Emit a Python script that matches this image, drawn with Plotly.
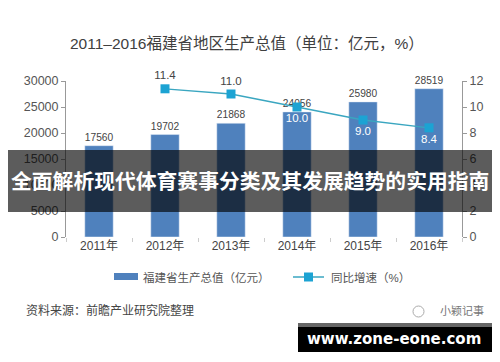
import plotly.graph_objects as go

# ---- data ----
years = ["2011年", "2012年", "2013年", "2014年", "2015年", "2016年"]
gdp = [17560, 19702, 21868, 24056, 25980, 28519]
growth_years = ["2012年", "2013年", "2014年", "2015年", "2016年"]
growth = [11.4, 11.0, 10.0, 9.0, 8.4]
left_ticks = [0, 5000, 10000, 15000, 20000, 25000, 30000]
right_ticks = [0, 2, 4, 6, 8, 10, 12]
bar_name = "福建省生产总值（亿元）"
line_name = "同比增速（%）"
title_text = "2011–2016福建省地区生产总值（单位：亿元，%）"
source_text = "资料来源：前瞻产业研究院整理"
brand_text = "小颖记事"
banner_text = "全面解析现代体育赛事分类及其发展趋势的实用指南"
site_text = "www.zone-eone.com"

W, H = 500, 362
ML, MR, MT, MB = 66, 38, 81, 125
PW, PH = W - ML - MR, H - MT - MB


def px(x):
    return (x - ML) / PW


def py(y):
    return (H - MB - y) / PH


FONT = "Liberation Sans, Noto Sans CJK SC, sans-serif"
BAR_COLOR = "#4f81bd"
LINE_COLOR = "#3aa6c0"
MARK_COLOR = "#1ca3d3"

fig = go.Figure()
fig.add_trace(go.Bar(
    x=years, y=gdp, name=bar_name, marker_color=BAR_COLOR,
    text=[str(v) for v in gdp], textposition="outside",
    textfont=dict(size=11, color="#444"), cliponaxis=False,
    showlegend=False,
))
fig.add_trace(go.Scatter(
    x=growth_years, y=growth, name=line_name, yaxis="y2",
    mode="lines+markers+text",
    line=dict(color=LINE_COLOR, width=1.3),
    marker=dict(symbol="square", size=9, color=MARK_COLOR),
    text=[f"{v:.1f}" for v in growth],
    textposition=["top center", "top center", "bottom center", "bottom center", "bottom center"],
    textfont=dict(size=11.5, color=["#444", "#444", "white", "white", "white"]),
    cliponaxis=False, showlegend=False,
))

shapes = []
annotations = []

# title
annotations.append(dict(xref="paper", yref="paper", x=px(246.5), y=py(43), text=title_text,
                        showarrow=False, font=dict(size=15.5, color="#404040"),
                        xanchor="center", yanchor="middle"))

# manual legend
shapes.append(dict(type="rect", xref="paper", yref="paper", x0=px(114), x1=px(138),
                   y0=py(280), y1=py(273), fillcolor=BAR_COLOR, line=dict(width=0)))
annotations.append(dict(xref="paper", yref="paper", x=px(141), y=py(277), text=bar_name,
                        showarrow=False, font=dict(size=11.5, color="#555"),
                        xanchor="left", yanchor="middle"))
shapes.append(dict(type="line", xref="paper", yref="paper", x0=px(293), x1=px(324),
                   y0=py(277), y1=py(277), line=dict(color=LINE_COLOR, width=1.5)))
shapes.append(dict(type="rect", xref="paper", yref="paper", x0=px(304), x1=px(313),
                   y0=py(281.5), y1=py(272.5), fillcolor=MARK_COLOR, line=dict(width=0)))
annotations.append(dict(xref="paper", yref="paper", x=px(329), y=py(277), text=line_name,
                        showarrow=False, font=dict(size=11.5, color="#555"),
                        xanchor="left", yanchor="middle"))

# source and brand
annotations.append(dict(xref="paper", yref="paper", x=px(24), y=py(310), text=source_text,
                        showarrow=False, font=dict(size=12, color="#444"),
                        xanchor="left", yanchor="middle"))
shapes.append(dict(type="circle", xref="paper", yref="paper", x0=px(413), x1=px(424),
                   y0=py(317), y1=py(306), line=dict(color="#aaa", width=1)))
annotations.append(dict(xref="paper", yref="paper", x=px(486), y=py(311), text=brand_text,
                        showarrow=False, font=dict(size=11, color="#777"),
                        xanchor="right", yanchor="middle"))

# banner overlay
shapes.append(dict(type="rect", xref="paper", yref="paper", x0=px(8), x1=px(492),
                   y0=py(212), y1=py(150), fillcolor="rgba(0,0,0,0.64)",
                   line=dict(width=0), layer="above"))
annotations.append(dict(xref="paper", yref="paper", x=px(250), y=py(180), text="<b>" + banner_text + "</b>",
                        showarrow=False, font=dict(size=20.8, color="white",
                                                   family="Noto Sans CJK SC, sans-serif"),
                        xanchor="center", yanchor="middle"))

# site box
shapes.append(dict(type="rect", xref="paper", yref="paper", x0=px(298), x1=px(492),
                   y0=py(327), y1=py(323), fillcolor="#666", line=dict(width=0), layer="above"))
shapes.append(dict(type="rect", xref="paper", yref="paper", x0=px(298), x1=px(492),
                   y0=py(352), y1=py(327), fillcolor="black", line=dict(width=0), layer="above"))
annotations.append(dict(xref="paper", yref="paper", x=px(394), y=py(339), text="<b>" + site_text + "</b>",
                        showarrow=False, font=dict(size=15, color="white",
                                                   family="DejaVu Sans, sans-serif"),
                        xanchor="center", yanchor="middle"))

fig.update_layout(
    width=W, height=H,
    margin=dict(l=ML, r=MR, t=MT, b=MB, pad=0),
    paper_bgcolor="white", plot_bgcolor="white",
    font=dict(family=FONT, color="#555", size=12),
    bargap=0.57,
    showlegend=False,
    xaxis=dict(type="category", showline=False, showgrid=False, zeroline=False,
               ticks="outside", tickson="boundaries", ticklen=4, tickcolor="#ccc",
               tickfont=dict(size=12, color="#444")),
    yaxis=dict(range=[0, 30000], tickvals=left_ticks, tickformat="d",
               showgrid=False, zeroline=False,
               showline=True, linecolor="#999", linewidth=1,
               ticks="outside", ticklen=4, tickcolor="#999",
               tickfont=dict(size=12.5, color="#555")),
    yaxis2=dict(range=[0, 12], tickvals=right_ticks, overlaying="y", side="right",
                showgrid=False, zeroline=False,
                showline=True, linecolor="#999", linewidth=1,
                ticks="outside", ticklen=4, tickcolor="#999",
                tickfont=dict(size=12.5, color="#555")),
    shapes=shapes, annotations=annotations,
)

fig.write_html("out.html", config={"displayModeBar": False},
               post_script="document.body.style.margin='0';document.body.style.padding='0';")
